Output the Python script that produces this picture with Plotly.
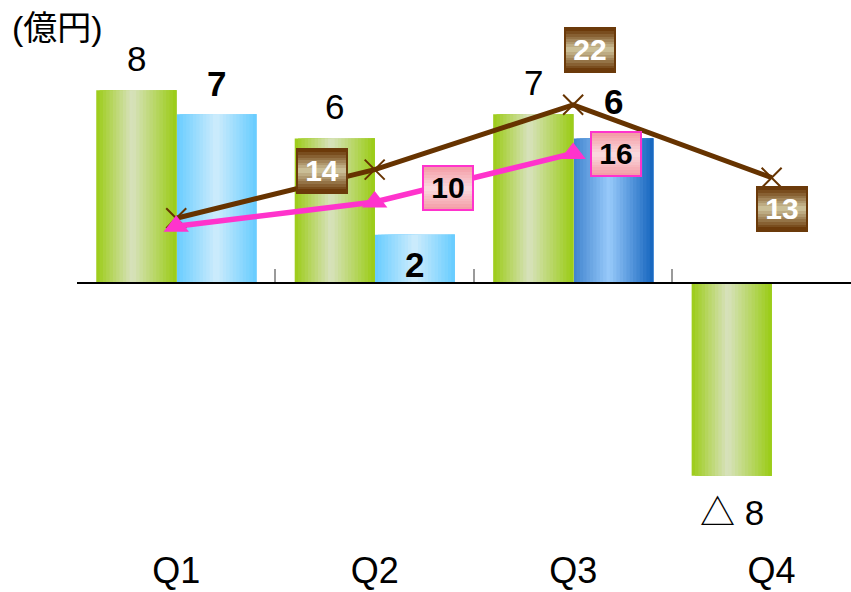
import plotly.graph_objects as go

# ---------------- data ----------------
categories = ["Q1", "Q2", "Q3", "Q4"]
green_values = [8, 6, 7, -8]
blue_values = [7, 2, 6, None]
brown_line = [8, 14, 22, 13]
pink_line = [7, 10, 16, None]
green_labels = ["8", "6", "7", "△ 8"]
blue_labels = ["7", "2", "6", None]
brown_labels = [None, "14", "22", "13"]
pink_labels = [None, "10", "16", None]
unit_label = "(億円)"

# ---------------- style ----------------
FONT = "Liberation Sans, Arial, Noto Sans CJK JP, sans-serif"
W, H = 851, 592
ML, MR, MT, MB = 77, 0, 0, 52
PLOT_H = H - MT - MB
PLOT_W = W - ML - MR
ZERO_PX = 283            # pixel row of zero line
PX1 = 24.1               # px per unit, primary axis
PX2 = 8.1                # px per unit, secondary axis
Y1 = [-(PLOT_H - ZERO_PX) / PX1, ZERO_PX / PX1]
Y2 = [-(PLOT_H - ZERO_PX) / PX2, ZERO_PX / PX2]
XR = [-0.5, 3.4]
PX_CAT = PLOT_W / (XR[1] - XR[0])
BAR_W = 0.403
N_SLICES = 24

blue_styles = ["light", "light", "dark", None]
blue_label_dy = [31, -30, 37, 0]
brown_label_dxy = [None, (-53, -1), (17, 55), (10, -31)]
pink_label_dxy = [None, (73, 14), (43, -1), None]

GRAD = {
    "green": [(0.0, (156, 204, 22)), (0.45, (216, 226, 190)), (1.0, (154, 204, 20))],
    "light": [(0.0, (102, 204, 255)), (0.5, (206, 236, 252)), (1.0, (102, 204, 255))],
    "dark": [(0.0, (62, 130, 206)), (0.45, (152, 202, 250)), (1.0, (20, 100, 190))],
}


def grad_color(name, t):
    stops = GRAD[name]
    for (t0, c0), (t1, c1) in zip(stops[:-1], stops[1:]):
        if t0 <= t <= t1:
            f = (t - t0) / (t1 - t0)
            c = [round(a + (b - a) * f) for a, b in zip(c0, c1)]
            return "rgb(%d,%d,%d)" % tuple(c)
    return "rgb(%d,%d,%d)" % stops[-1][1]


def mix(c0, c1, f):
    c = [round(a + (b - a) * f) for a, b in zip(c0, c1)]
    return "rgb(%d,%d,%d)" % tuple(c)


fig = go.Figure()
sw = BAR_W / N_SLICES
for k in range(N_SLICES):
    t = (k + 0.5) / N_SLICES
    rest = BAR_W - k * sw   # each slice runs to the bar's right edge; later slices cover it
    fig.add_trace(go.Bar(
        x=categories, y=green_values, width=rest, offset=-BAR_W + k * sw,
        marker=dict(color=[grad_color("green", t)] * len(categories), line=dict(width=0)),
        hoverinfo="skip", showlegend=False, xaxis="x", yaxis="y"))
    fig.add_trace(go.Bar(
        x=categories, y=blue_values, width=rest, offset=k * sw,
        marker=dict(color=[grad_color(s, t) if s else "rgba(0,0,0,0)" for s in blue_styles],
                    line=dict(width=0)),
        hoverinfo="skip", showlegend=False, xaxis="x", yaxis="y"))

# empty trace so the zero-line axis (x2) is rendered
fig.add_trace(go.Scatter(x=[None], y=[None], xaxis="x2", yaxis="y", mode="markers",
                         hoverinfo="skip", showlegend=False))

fig.add_trace(go.Scatter(
    x=categories, y=brown_line, mode="lines+markers", xaxis="x", yaxis="y2",
    line=dict(color="#663300", width=5),
    marker=dict(symbol="x-thin", size=20, line=dict(color="#663300", width=2)),
    hoverinfo="skip", showlegend=False))
fig.add_trace(go.Scatter(
    x=categories, y=pink_line, mode="lines+markers", xaxis="x", yaxis="y2",
    line=dict(color="#FF33CC", width=5.5),
    marker=dict(symbol="triangle-up", size=22, color="#FF33CC"),
    hoverinfo="skip", showlegend=False))

ann = []
for c, v, lab in zip(categories, green_values, green_labels):
    ann.append(dict(x=c, y=v, xref="x", yref="y", text=lab, showarrow=False,
                    xshift=-BAR_W * 0.5 * PX_CAT, yshift=32 if v >= 0 else -37,
                    font=dict(family=FONT, size=35, color="black")))
for c, v, lab, dy in zip(categories, blue_values, blue_labels, blue_label_dy):
    if lab is None:
        continue
    ann.append(dict(x=c, y=v, xref="x", yref="y", text="<b>%s</b>" % lab, showarrow=False,
                    xshift=BAR_W * 0.5 * PX_CAT, yshift=dy,
                    font=dict(family=FONT, size=35, color="black")))


def gradient_box(c, v, lab, dxy, dark, light, border, txtcolor):
    out = []
    layers = 8
    base_h = 42
    for i in range(layers):
        h = base_h - i * (base_h / layers)
        f = i / (layers - 1)
        out.append(dict(
            x=c, y=v, xref="x", yref="y2", showarrow=False,
            xshift=dxy[0], yshift=dxy[1], width=48, height=h,
            bgcolor=mix(dark, light, f), borderpad=0,
            bordercolor=border if i == 0 else "rgba(0,0,0,0)", borderwidth=2 if i == 0 else 0,
            text=" ", font=dict(family=FONT, size=10, color="rgba(0,0,0,0)")))
    out.append(dict(
        x=c, y=v, xref="x", yref="y2", showarrow=False,
        xshift=dxy[0], yshift=dxy[1] + 1, width=48, height=base_h,
        bgcolor="rgba(0,0,0,0)", borderpad=0, borderwidth=0,
        text="<b>%s</b>" % lab, font=dict(family=FONT, size=30, color=txtcolor)))
    return out


for c, v, lab, dxy in zip(categories, brown_line, brown_labels, brown_label_dxy):
    if lab:
        ann += gradient_box(c, v, lab, dxy, (108, 58, 10), (202, 190, 150), "#6B3A0A", "white")
for c, v, lab, dxy in zip(categories, pink_line, pink_labels, pink_label_dxy):
    if lab:
        ann += gradient_box(c, v, lab, dxy, (244, 158, 168), (250, 216, 220), "#FF33CC", "black")

ann.append(dict(x=(10 - ML) / PLOT_W, y=(PLOT_H - 28) / PLOT_H, xref="paper", yref="paper",
                xanchor="left", yanchor="middle", text=unit_label, showarrow=False,
                font=dict(family=FONT, size=34, color="black")))

zero_pos = -Y1[0] / (Y1[1] - Y1[0])

fig.update_layout(
    width=W, height=H, margin=dict(l=ML, r=MR, t=MT, b=MB, autoexpand=False),
    paper_bgcolor="white", plot_bgcolor="white",
    barmode="overlay", showlegend=False,
    xaxis=dict(type="category", categoryorder="array", categoryarray=categories,
               range=XR, showline=False, showgrid=False, zeroline=False, ticks="",
               tickfont=dict(family=FONT, size=36, color="black"), ticklabelstandoff=6,
               automargin=False, fixedrange=True),
    xaxis2=dict(overlaying="x", anchor="free", position=zero_pos, range=XR,
                tickmode="array", tickvals=[i - 0.5 for i in range(len(categories))],
                ticks="inside", ticklen=13, tickwidth=1.5, tickcolor="#9a9a9a",
                showticklabels=False, showline=True, linecolor="black", linewidth=1.5,
                showgrid=False, zeroline=False, automargin=False),
    yaxis=dict(range=Y1, visible=False),
    yaxis2=dict(range=Y2, overlaying="y", visible=False),
    annotations=ann,
)

fig.write_html("out.html")
